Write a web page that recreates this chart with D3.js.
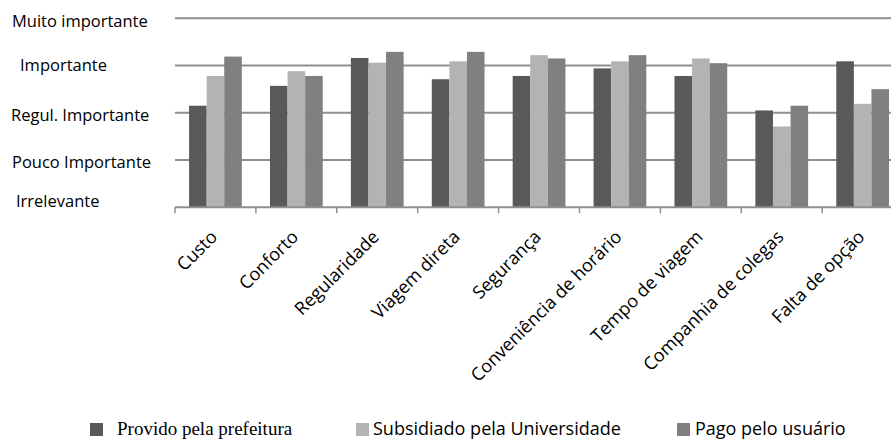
<!DOCTYPE html>
<html><head><meta charset="utf-8">
<script src="https://cdn.jsdelivr.net/npm/d3@7"></script>
<style>
html,body{margin:0;padding:0;background:#fff;overflow:hidden}
svg{display:block}
</style></head>
<body>
<svg id="chart" width="891" height="439"></svg>
<script>
// ---- data ----
const categories = ["Custo","Conforto","Regularidade","Viagem direta","Segurança","Conveniência de horário","Tempo de viagem","Companhia de colegas","Falta de opção"];
const seriesNames = ["Provido pela prefeitura","Subsidiado pela Universidade","Pago pelo usuário"];
const providoPrefeitura   = [2.15, 2.57, 3.16, 2.71, 2.78, 2.94, 2.78, 2.05, 3.09];
const subsidiadoUniv      = [2.78, 2.88, 3.06, 3.09, 3.22, 3.09, 3.15, 1.71, 2.19];
const pagoUsuario         = [3.19, 2.78, 3.29, 3.29, 3.15, 3.22, 3.05, 2.15, 2.50];
const levelLabels = ["Irrelevante","Pouco Importante","Regul. Importante","Importante","Muito importante"];
const levelValues = [0,1,2,3,4];

// ---- style/layout ----
const colors = ["#595959","#b3b3b3","#808080"];
const gridColor = "#8f8f8f";
const sansFont = "'Open Sans', sans-serif";
const serifFont = "'Liberation Serif', 'Times New Roman', serif";
const yLabelX  = [16, 12, 11, 20, 12];
const yLabelDy = [0, 8, 8, 5, 9];

const svg = d3.select("#chart");
const plotLeft = 175, bandW = 80.9;
const x0 = d3.scaleBand().domain(categories).range([plotLeft, plotLeft + bandW*categories.length]).paddingInner(0).paddingOuter(0);
const groupW = x0.bandwidth()*0.652;
const x1 = d3.scaleBand().domain(d3.range(seriesNames.length)).range([0, groupW]).padding(0);
const y = d3.scaleLinear().domain([0,4]).range([207.3, 18.3]);

const seriesVals = [providoPrefeitura, subsidiadoUniv, pagoUsuario];

// gridlines
svg.append("g").selectAll("line").data(levelValues.filter(v=>v>0)).join("line")
  .attr("x1", plotLeft).attr("x2", 891)
  .attr("y1", d=>y(d)).attr("y2", d=>y(d))
  .attr("stroke", gridColor).attr("stroke-width", 2);

// bars
const groups = svg.append("g").selectAll("g").data(categories).join("g")
  .attr("transform", d=>`translate(${x0(d) + (x0.bandwidth()-groupW)/2},0)`);
groups.selectAll("rect").data((c,i)=>seriesVals.map((s,k)=>({k, v:s[i]}))).join("rect")
  .attr("x", d=>x1(d.k)).attr("width", x1.bandwidth())
  .attr("y", d=>y(d.v)).attr("height", d=>y(0)-y(d.v))
  .attr("fill", d=>colors[d.k]);

// x axis
const xAxis = d3.axisBottom(x0).tickSize(0).tickFormat("");
const gx = svg.append("g").attr("transform", `translate(0,${y(0)})`).call(xAxis);
gx.select(".domain").attr("stroke", gridColor).attr("stroke-width", 2).attr("d", `M${plotLeft},0H891`);
// boundary ticks
const bounds = categories.map(c=>x0(c));
svg.append("g").selectAll("line").data(bounds).join("line")
  .attr("x1", d=>d).attr("x2", d=>d)
  .attr("y1", y(0)).attr("y2", y(0)+6)
  .attr("stroke", gridColor).attr("stroke-width", 1.5);

// x labels
svg.append("g").selectAll("text").data(categories).join("text")
  .attr("transform", d=>`translate(${x0(d)+x0.bandwidth()/2+3},238) rotate(-45)`)
  .attr("text-anchor","end")
  .attr("font-family", sansFont).attr("font-size", 18).attr("fill","#000")
  .text(d=>d);

// y labels
svg.append("g").selectAll("text").data(levelValues).join("text")
  .attr("x", (d,i)=>yLabelX[i]).attr("y", (d,i)=>y(d)+yLabelDy[i])
  .attr("font-family", sansFont).attr("font-size", 16.5).attr("fill","#000")
  .text((d,i)=>levelLabels[i]);

// legend
const legX = [90, 356, 677];
const legTX = [117, 373, 695];
const legY = 435;
const leg = svg.append("g").selectAll("g").data(seriesNames).join("g");
leg.append("rect").attr("x",(d,i)=>legX[i]).attr("y", legY-12).attr("width",13).attr("height",13)
  .attr("fill",(d,i)=>colors[i]);
leg.append("text").attr("x",(d,i)=>legTX[i]).attr("y",legY)
  .attr("font-family",(d,i)=> i===0 ? serifFont : sansFont)
  .attr("font-size",(d,i)=> i===0 ? 19 : 18).attr("fill","#000")
  .text(d=>d);
</script>
</body></html>
